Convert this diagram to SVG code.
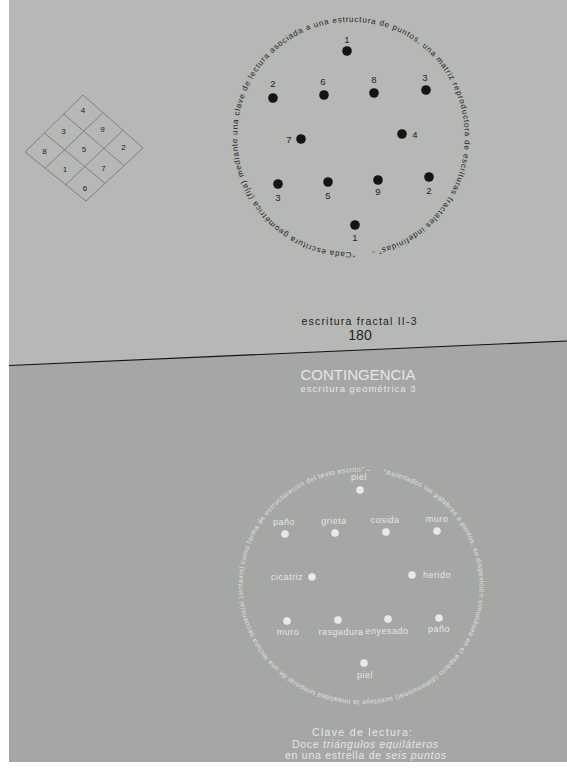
<svg xmlns="http://www.w3.org/2000/svg" width="567" height="769" viewBox="0 0 567 769">
<style>
.dk{font-family:"Liberation Sans",Arial,sans-serif;fill:#222;text-anchor:middle}
.lt{font-family:"Liberation Sans",Arial,sans-serif;fill:#e6e6e6;text-anchor:middle}
.dot{fill:#141414}
.wdot{fill:#e9e9e9}
.grid{fill:none;stroke:#6f716f;stroke-width:0.8}
</style>
<defs>
<path id="ringTop" d="M354.9,251.9 A112,115 0 1,1 347.1,22.07 A112,115 0 1,1 354.9,251.9"/>
<path id="ringBot" d="M383.3,474.1 A117,114 0 1,1 338.7,697.9 A117,114 0 1,1 383.3,474.1"/>
</defs>
<rect x="0" y="0" width="567" height="769" fill="#ffffff"/>
<rect x="9" y="0" width="558" height="762" fill="#b6b8b5"/>
<polygon points="9,365.5 567,341 567,762 9,762" fill="#a4a7a4"/>
<line x1="9" y1="365.5" x2="567" y2="341" stroke="#111" stroke-width="1.1"/>

<g id="grid">
<polygon class="grid" points="83,95 143,148 86,201 25,152"/>
<line class="grid" x1="103" y1="112.7" x2="45.3" y2="168.3"/>
<line class="grid" x1="123" y1="130.3" x2="65.7" y2="184.7"/>
<line class="grid" x1="63.7" y1="114" x2="124" y2="165.7"/>
<line class="grid" x1="44.3" y1="133" x2="105" y2="183.3"/>
<g class="dk" font-size="8">
<text x="83" y="113">4</text>
<text x="63.5" y="134">3</text>
<text x="102.5" y="132">9</text>
<text x="44.5" y="154">8</text>
<text x="84" y="152">5</text>
<text x="123.5" y="150">2</text>
<text x="65" y="172">1</text>
<text x="103.5" y="171">7</text>
<text x="85" y="191">6</text>
</g>
</g>

<g id="ring-top">
<text font-family="Liberation Sans,Arial,sans-serif" font-size="8" fill="#1e1e1e"><textPath href="#ringTop" textLength="703" lengthAdjust="spacing">“Cada escritura geométrica (fija) mediante una clave de lectura asociada a una estructura de puntos, una matriz reproductora de escrituras fractales indefinidas” -</textPath></text>
</g>

<g id="top-points" font-size="9.5">
<g id="t1a"><circle class="dot" cx="347" cy="51" r="4.8"/><text class="dk" x="347" y="43">1</text></g>
<g id="t2a"><circle class="dot" cx="273" cy="98" r="4.8"/><text class="dk" x="273" y="87">2</text></g>
<g id="t6"><circle class="dot" cx="324" cy="95" r="4.8"/><text class="dk" x="323" y="85">6</text></g>
<g id="t8"><circle class="dot" cx="374" cy="93" r="4.8"/><text class="dk" x="374" y="83">8</text></g>
<g id="t3a"><circle class="dot" cx="426" cy="90" r="4.8"/><text class="dk" x="425" y="81">3</text></g>
<g id="t7"><circle class="dot" cx="301" cy="139" r="4.8"/><text class="dk" x="289" y="143">7</text></g>
<g id="t4"><circle class="dot" cx="402" cy="134" r="4.8"/><text class="dk" x="415" y="138">4</text></g>
<g id="t3b"><circle class="dot" cx="278" cy="184" r="4.8"/><text class="dk" x="278" y="201">3</text></g>
<g id="t5"><circle class="dot" cx="328" cy="182" r="4.8"/><text class="dk" x="328" y="199">5</text></g>
<g id="t9"><circle class="dot" cx="378" cy="180" r="4.8"/><text class="dk" x="378" y="195">9</text></g>
<g id="t2b"><circle class="dot" cx="429" cy="177" r="4.8"/><text class="dk" x="429" y="194">2</text></g>
<g id="t1b"><circle class="dot" cx="355" cy="225" r="4.8"/><text class="dk" x="355" y="241">1</text></g>
</g>

<g id="title-top">
<text class="dk" x="359" y="325" font-size="10.5" textLength="115" lengthAdjust="spacing">escritura fractal II-3</text>
<text class="dk" x="360" y="339.5" font-size="14">180</text>
</g>

<g id="title-bottom">
<text class="lt" x="358" y="380" font-size="14" textLength="115" lengthAdjust="spacingAndGlyphs" fill="#eeeeee">CONTINGENCIA</text>
<text class="lt" x="358" y="392" font-size="9.5" textLength="115" lengthAdjust="spacing">escritura geométrica 3</text>
</g>

<g id="ring-bottom">
<text font-family="Liberation Sans,Arial,sans-serif" font-size="6.8" fill="#e2e2e2"><textPath href="#ringBot" textLength="718" lengthAdjust="spacing">“Asimilados las palabras a puntos, su disposición simultánea en el espacio (dimensional) sustituye la linealidad temporal de una lectura secuencial (sintaxis) como forma de estructuración del texto escrito” –</textPath></text>
</g>

<g id="bottom-points" font-size="9" letter-spacing="0.5">
<g id="b-piel1"><circle class="wdot" cx="360" cy="490" r="3.8"/><text class="lt" x="359" y="480">piel</text></g>
<g id="b-pano1"><circle class="wdot" cx="285" cy="534" r="3.8"/><text class="lt" x="284" y="525">paño</text></g>
<g id="b-grieta"><circle class="wdot" cx="335" cy="533" r="3.8"/><text class="lt" x="334" y="524">grieta</text></g>
<g id="b-cosida"><circle class="wdot" cx="386" cy="532" r="3.8"/><text class="lt" x="385" y="523">cosida</text></g>
<g id="b-muro1"><circle class="wdot" cx="437" cy="531" r="3.8"/><text class="lt" x="437" y="522">muro</text></g>
<g id="b-cicatriz"><circle class="wdot" cx="312" cy="577" r="3.8"/><text class="lt" x="287" y="580">cicatriz</text></g>
<g id="b-herido"><circle class="wdot" cx="412" cy="575" r="3.8"/><text class="lt" x="437" y="578">herido</text></g>
<g id="b-muro2"><circle class="wdot" cx="287" cy="621" r="3.8"/><text class="lt" x="288" y="635">muro</text></g>
<g id="b-rasgadura"><circle class="wdot" cx="338" cy="620" r="3.8"/><text class="lt" x="341" y="635">rasgadura</text></g>
<g id="b-enyesado"><circle class="wdot" cx="388" cy="619" r="3.8"/><text class="lt" x="387" y="634">enyesado</text></g>
<g id="b-pano2"><circle class="wdot" cx="439" cy="618" r="3.8"/><text class="lt" x="439" y="632">paño</text></g>
<g id="b-piel2"><circle class="wdot" cx="364" cy="663" r="3.8"/><text class="lt" x="365" y="678">piel</text></g>
</g>

<g id="caption" font-size="10.5">
<text class="lt" x="362" y="736" textLength="100" lengthAdjust="spacing">Clave de lectura:</text>
<text class="lt" x="365" y="747.5" textLength="146" lengthAdjust="spacing">Doce <tspan font-style="italic">triángulos equiláteros</tspan></text>
<text class="lt" x="365.5" y="759" textLength="161" lengthAdjust="spacing">en una estrella de <tspan font-style="italic">seis puntos</tspan></text>
</g>
</svg>
